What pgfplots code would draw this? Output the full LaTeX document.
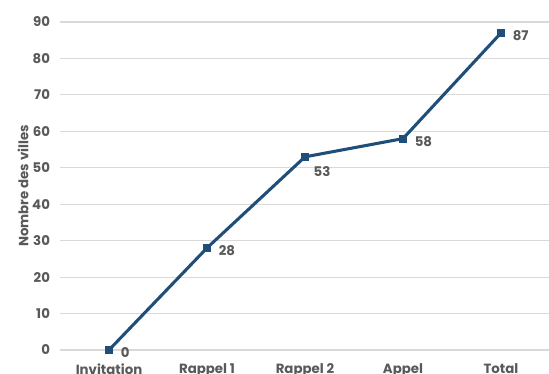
\documentclass[border=0pt]{standalone}
\usepackage{fontspec}
\setmainfont{Poppins}
\usepackage{pgfplots}
\pgfplotsset{compat=1.18}
\definecolor{linec}{HTML}{1F4E79}
\definecolor{txt}{HTML}{595959}
\definecolor{gridc}{HTML}{D9D9D9}
\begin{document}
\begin{tikzpicture}[x=1pt,y=1pt]
\begin{axis}[
  at={(0,0)}, anchor=south west,
  scale only axis, width=367.5pt, height=246pt,
  xmin=-0.5, xmax=4.5, ymin=0, ymax=90,
  ytick={0,10,...,90},
  xtick={0,1,2,3,4},
  xticklabels={Invitation, Rappel 1, Rappel 2, Appel, Total},
  axis line style={draw=none},
  tick style={draw=none},
  ymajorgrids=true, xmajorgrids=false,
  grid style={color=gridc, line width=0.9pt},
  /pgf/number format/assume math mode=true,
  tick label style={font=\fontsize{10}{12}\selectfont\bfseries, text=txt},
  yticklabel style={xshift=-4pt},
  xticklabel style={yshift=-6.5pt},
  ylabel={Nombre des villes},
  ylabel style={font=\fontsize{10}{12}\selectfont\bfseries, text=txt},
  ylabel shift=-4pt,
  clip=false,
]
\addplot[color=linec, line width=2.3pt, mark=square*, mark size=2.6pt, mark options={line width=0pt},
  nodes near coords, point meta=explicit symbolic,
  every node near coord/.append style={anchor=west, xshift=5.5pt, yshift=-2pt, font=\fontsize{10}{12}\selectfont\bfseries, text=txt}]
  coordinates {(0,0)[0] (1,28)[28] (2,53)[] (3,58)[58] (4,87)[87]};
\addplot[draw=none, mark=none, nodes near coords, point meta=explicit symbolic,
  every node near coord/.append style={anchor=north west, xshift=3pt, yshift=-4pt, font=\fontsize{10}{12}\selectfont\bfseries, text=txt}]
  coordinates {(2,53)[53]};
\end{axis}
\pgfresetboundingbox
\path[use as bounding box] (-45pt,-18pt) rectangle (366.75pt,262.5pt);
\end{tikzpicture}
\end{document}
